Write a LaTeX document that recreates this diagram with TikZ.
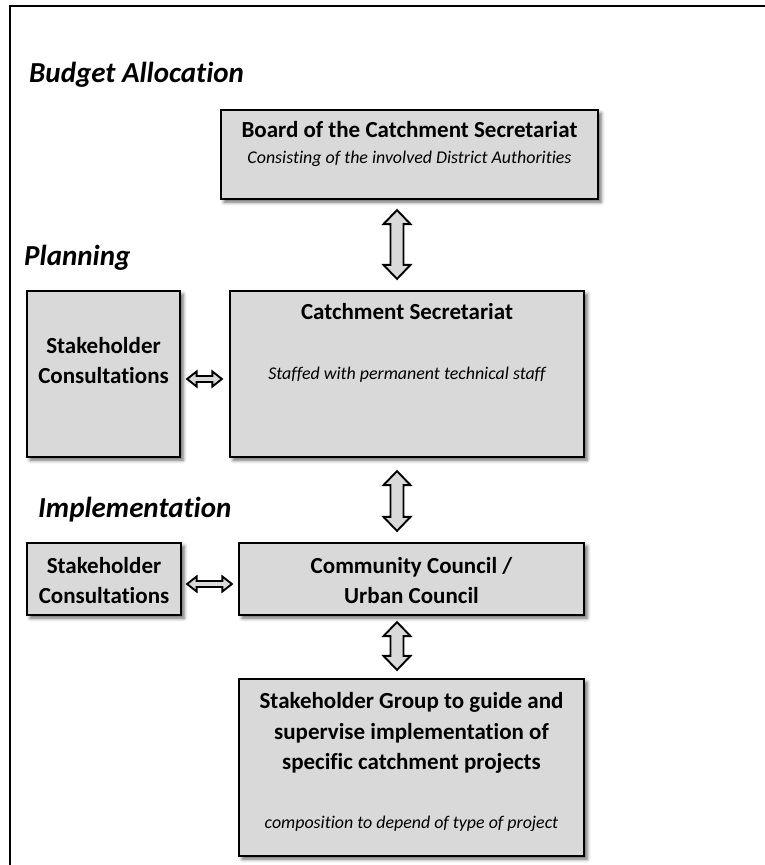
\documentclass[tikz,border=0pt]{standalone}
\usepackage{fontspec}
\setmainfont{Carlito}[Ligatures=NoCommon]
\usetikzlibrary{calc,shadows.blur}
\definecolor{boxgray}{HTML}{D9D9D9}
\tikzset{
  box/.style={draw=black, line width=2.2pt, fill=boxgray, rectangle, inner sep=0pt,
    blur shadow={shadow xshift=3pt, shadow yshift=-3pt, shadow blur radius=3.5pt, shadow opacity=60}},
  btxt/.style={anchor=base, inner sep=0pt, font=\fontsize{23}{27}\selectfont\bfseries},
  itxt/.style={anchor=base, inner sep=0pt, font=\fontsize{17.9}{21}\selectfont\itshape},
  ttl/.style={anchor=base west, inner sep=0pt, font=\fontsize{29}{33}\selectfont\bfseries\itshape},
  blockarrow/.style={draw=black, line width=1.9pt, fill=boxgray, line join=miter},
}
% vertical double block arrow between two tip coordinates (top, bottom)
\newcommand\vdarr[2]{%
  \draw[blockarrow] (#1) -- ($(#1)+(13.5,14)$) -- ($(#1)+(6.5,14)$) -- ($(#2)+(6.5,-14)$)
    -- ($(#2)+(13.5,-14)$) -- (#2) -- ($(#2)+(-13.5,-14)$) -- ($(#2)+(-6.5,-14)$)
    -- ($(#1)+(-6.5,14)$) -- ($(#1)+(-13.5,14)$) -- cycle;}
% horizontal double block arrow between two tip coordinates (left, right)
\newcommand\hdarr[2]{%
  \draw[blockarrow] (#1) -- ($(#1)+(9.5,-7.5)$) -- ($(#1)+(9.5,-3)$) -- ($(#2)+(-9.5,-3)$)
    -- ($(#2)+(-9.5,-7.5)$) -- (#2) -- ($(#2)+(-9.5,7.5)$) -- ($(#2)+(-9.5,3)$)
    -- ($(#1)+(9.5,3)$) -- ($(#1)+(9.5,7.5)$) -- cycle;}
\begin{document}
\begin{tikzpicture}[x=1pt, y=-1pt]
\useasboundingbox (0,0) rectangle (764,865);
% outer frame (cropped at right and bottom)
\draw[line width=1.8pt] (10,880) -- (10,6) -- (780,6);

% titles
\node[ttl] (tbudget) at (29,82) {Budget Allocation};
\node[ttl] (tplan) at (24,265) {Planning};
\node[ttl] (timpl) at (38,517) {Implementation};

% boxes
\node[box, minimum width=377pt, minimum height=89pt] (board) at (409.5,154.5) {};
\node[box, minimum width=354pt, minimum height=166pt] (cs) at (407,374) {};
\node[box, minimum width=153pt, minimum height=166pt] (sc1) at (103.5,374) {};
\node[box, minimum width=154pt, minimum height=72pt] (sc2) at (104,579) {};
\node[box, minimum width=345pt, minimum height=72pt] (cc) at (411.5,579) {};
\node[box, minimum width=345pt, minimum height=177pt] (sg) at (411.5,767.5) {};

% box texts
\node[btxt] (boardA) at (board.center |- 0,137) {Board of the Catchment Secretariat};
\node[itxt] (boardB) at (board.center |- 0,163) {Consisting of the involved District Authorities};
\node[btxt] (csA) at (cs.center |- 0,319) {Catchment Secretariat};
\node[itxt] (csB) at (cs.center |- 0,379) {Staffed with permanent technical staff};
\node[btxt] (sc1A) at (sc1.center |- 0,353) {Stakeholder};
\node[btxt] (sc1B) at (sc1.center |- 0,383) {Consultations};
\node[btxt] (sc2A) at (sc2.center |- 0,573) {Stakeholder};
\node[btxt] (sc2B) at (sc2.center |- 0,603) {Consultations};
\node[btxt] (ccA) at (cc.center |- 0,573) {Community Council /};
\node[btxt] (ccB) at (cc.center |- 0,603) {Urban Council};
\node[btxt] (sgA) at (sg.center |- 0,708) {Stakeholder Group to guide and};
\node[btxt] (sgB) at (sg.center |- 0,739) {supervise implementation of};
\node[btxt] (sgC) at (sg.center |- 0,769) {specific catchment projects};
\node[itxt] (sgD) at (sg.center |- 0,828) {composition to depend of type of project};

% arrow tip coordinates
\coordinate (ax) at (397,0);
\coordinate (a1t) at ($(board.south -| ax)+(0,10)$);
\coordinate (a1b) at ($(cs.north -| ax)+(0,-11)$);
\coordinate (a2t) at ($(cs.south -| ax)+(0,13)$);
\coordinate (a2b) at ($(cc.north -| ax)+(0,-11)$);
\coordinate (a3t) at ($(cc.south -| ax)+(0,6)$);
\coordinate (a3b) at ($(sg.north -| ax)+(0,-8)$);
\coordinate (h1l) at ($(sc1.east |- 0,379)+(6,0)$);
\coordinate (h1r) at ($(cs.west |- 0,379)+(-7,0)$);
\coordinate (h2l) at ($(sc2.east |- 0,584)+(5,0)$);
\coordinate (h2r) at ($(cc.west |- 0,584)+(-6,0)$);

% arrows
\vdarr{a1t}{a1b}
\vdarr{a2t}{a2b}
\vdarr{a3t}{a3b}
\hdarr{h1l}{h1r}
\hdarr{h2l}{h2r}
\end{tikzpicture}
\end{document}
